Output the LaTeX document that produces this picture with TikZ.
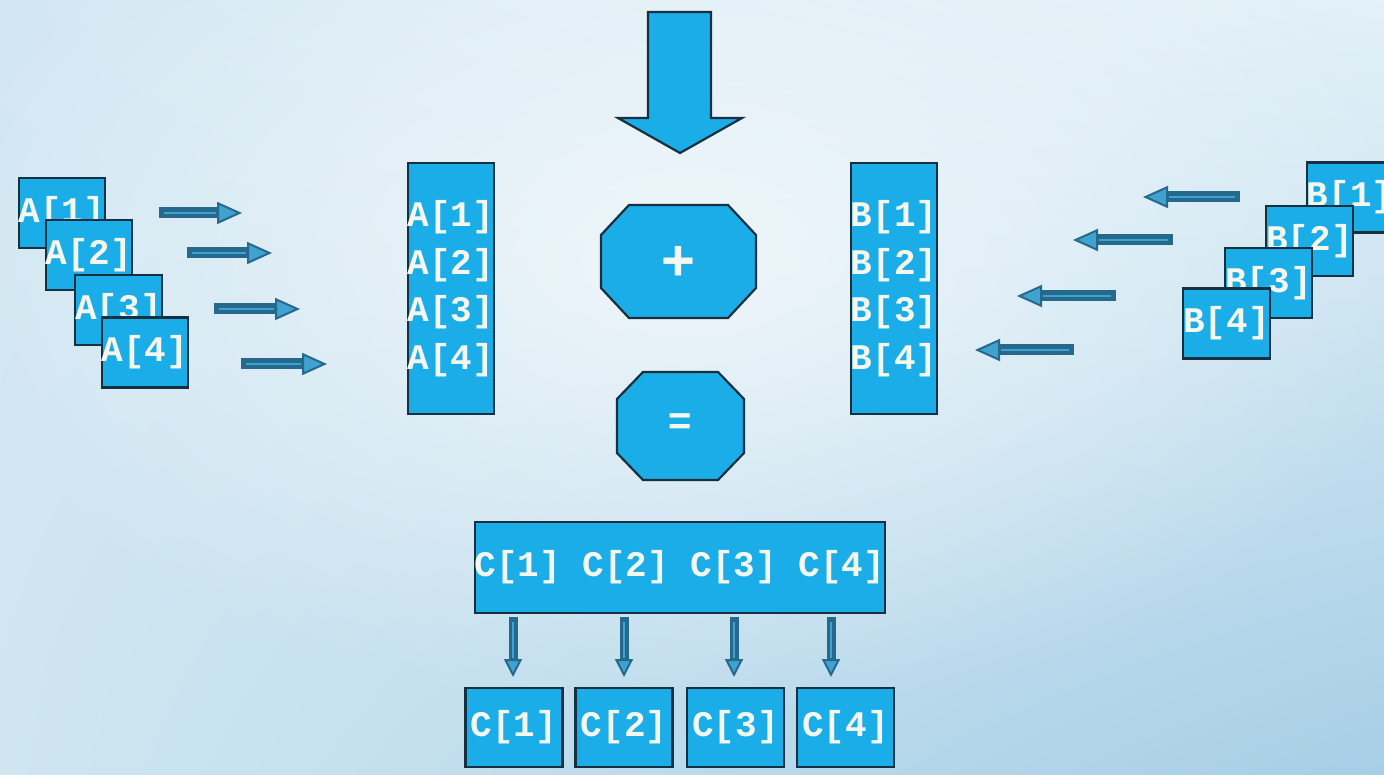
\documentclass[tikz,border=0pt]{standalone}
\usepackage{fontspec}
\usetikzlibrary{arrows.meta,fadings,shadings}
\newfontfamily\codefont{Liberation Mono}
\newfontfamily\signfont{Liberation Sans}
\definecolor{cell}{HTML}{1BADE8}
\definecolor{edge}{HTML}{17303F}
\definecolor{arrdark}{HTML}{25698D}
\definecolor{arrlight}{HTML}{3FA2CF}
\definecolor{label}{HTML}{F5F7EE}
\definecolor{bgTL}{HTML}{D3E7F3}
\definecolor{bgTR}{HTML}{E3F1F8}
\definecolor{bgBL}{HTML}{CFE6F1}
\definecolor{bgBR}{HTML}{A6CEE6}
\tikzfading[name=glow, inner color=transparent!0, outer color=transparent!100]

\begin{document}
\begin{tikzpicture}[x=1pt,y=-1pt,
  cellbox/.style={rectangle, fill=cell, draw=edge, line width=2.2pt, inner sep=0pt,
    text=label, align=center, font={\codefont\bfseries\fontsize{36}{47.5}\selectfont}},
  small/.style={cellbox, minimum width=85pt, minimum height=70pt},
  column/.style={cellbox, minimum width=86pt, minimum height=251pt},
  result/.style={cellbox, minimum width=97pt, minimum height=79pt},
  octo/.style={fill=cell, draw=edge, line width=2.2pt, line join=miter},
  sign/.style={text=label, inner sep=0pt},
  flow/.style={draw=arrdark, line width=11pt,
    -{Triangle[length=25pt,width=22pt,fill=arrlight,line width=2pt]}},
  drop/.style={draw=arrdark, line width=9pt,
    -{Triangle[length=18pt,width=18pt,fill=arrlight,line width=2pt]}},
  inner/.style={draw=arrlight, line width=2.5pt}
]
\useasboundingbox (0,0) rectangle (1384,775);
\clip (0,0) rectangle (1384,775);

% soft blue backdrop
\shade[upper left=bgTL, upper right=bgTR, lower left=bgBL, lower right=bgBR]
  (0,0) rectangle (1384,775);
\fill[white, opacity=0.65, path fading=glow] (690,260) ellipse [x radius=760, y radius=460];

% big input arrow
\path[octo] (648,12) -- (711,12) -- (711,118) -- (742,118) -- (680,153)
  -- (618,118) -- (648,118) -- cycle;

% operator octagons
\path[octo] (629,205) -- (728,205) -- (756,235) -- (756,288) -- (728,318)
  -- (629,318) -- (601,288) -- (601,235) -- cycle;
\node[sign, font={\signfont\bfseries\fontsize{58}{58}\selectfont}] (plus) at (678.5,263) {+};
\path[octo] (643,372) -- (718,372) -- (744,399) -- (744,453) -- (718,480)
  -- (643,480) -- (617,453) -- (617,399) -- cycle;
\node[sign, font={\signfont\bfseries\fontsize{40}{40}\selectfont}] (equals) at (680.5,424) {=};

% separate A elements
\node[small] (a1) at (62,213) {A[1]};
\node[small] (a2) at (89,255) {A[2]};
\node[small] (a3) at (118.5,310) {A[3]};
\node[small] (a4) at (145,352.5) {A[4]};

% separate B elements
\node[small] (b1) at (1350,197.5) {B[1]};
\node[small] (b2) at (1309.5,241) {B[2]};
\node[small] (b3) at (1268.5,283) {B[3]};
\node[small] (b4) at (1226.5,323.5) {B[4]};

% packed columns
\node[column] (colA) at (451,288.5) {A[1]\\A[2]\\A[3]\\A[4]};
\node[column] (colB) at (894,288.5) {B[1]\\B[2]\\B[3]\\B[4]};

% packed result and its parts
\node[cellbox, minimum width=404pt, minimum height=91pt] (ctop) at (680,567.5)
  {C[1] C[2] C[3] C[4]};
\node[result] (c1) at (514,727.5) {C[1]};
\node[result] (c2) at (624,727.5) {C[2]};
\node[result] (c3) at (735.5,727.5) {C[3]};
\node[result] (c4) at (845.5,727.5) {C[4]};

% loading arrows, left side
\coordinate (la1) at (159,213);  \coordinate (lb1) at (242,213);
\coordinate (la2) at (187,253);  \coordinate (lb2) at (272,253);
\coordinate (la3) at (214,309);  \coordinate (lb3) at (300,309);
\coordinate (la4) at (241,364);  \coordinate (lb4) at (327,364);
\foreach \i in {1,...,4} {
  \draw[flow] (la\i) -- (lb\i);
  \draw[inner] ([xshift=5pt]la\i) -- ([xshift=-26pt]lb\i);
}

% loading arrows, right side
\coordinate (ra1) at (1240,197); \coordinate (rb1) at (1143,197);
\coordinate (ra2) at (1173,240); \coordinate (rb2) at (1073,240);
\coordinate (ra3) at (1116,296); \coordinate (rb3) at (1017,296);
\coordinate (ra4) at (1074,350); \coordinate (rb4) at (975,350);
\foreach \i in {1,...,4} {
  \draw[flow] (ra\i) -- (rb\i);
  \draw[inner] ([xshift=-5pt]ra\i) -- ([xshift=26pt]rb\i);
}

% unpacking arrows
\coordinate (da1) at (513,617); \coordinate (db1) at (513,677);
\coordinate (da2) at (624,617); \coordinate (db2) at (624,677);
\coordinate (da3) at (734,617); \coordinate (db3) at (734,677);
\coordinate (da4) at (831,617); \coordinate (db4) at (831,677);
\foreach \i in {1,...,4} {
  \draw[drop] (da\i) -- (db\i);
  \draw[inner, line width=2pt] ([yshift=-5pt]da\i) -- ([yshift=19pt]db\i);
}
\end{tikzpicture}
\end{document}
